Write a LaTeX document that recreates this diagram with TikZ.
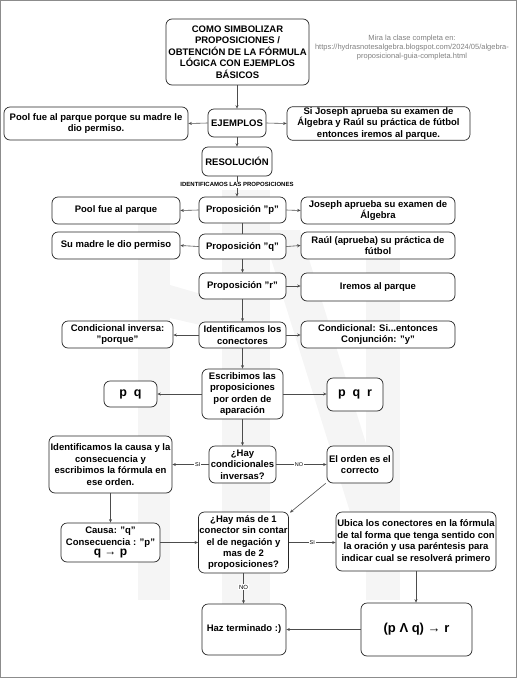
\documentclass[tikz,border=0pt]{standalone}
\usepackage{fontspec}
\setmainfont{Liberation Sans}
\usetikzlibrary{arrows.meta}
\begin{document}
\begin{tikzpicture}[x=1pt,y=-1pt,
  box/.style={draw=black!85, rounded corners=6pt, line width=0.7pt, align=center, fill=white,
    font=\fontsize{9.5}{11.4}\selectfont\bfseries, inner sep=1pt},
  conn/.style={draw=black!70, line width=0.6pt, -{Stealth[length=3.5pt,width=3pt]}},
  plain/.style={draw=black!70, line width=0.6pt},
  lbl/.style={fill=white, inner sep=1pt, font=\fontsize{5.5}{6}\selectfont},
  wm/.style={fill=black!4, draw=none}]
\useasboundingbox (0,0) rectangle (517,678);
% watermark
\fill[wm] (138,205) rectangle (170,600);
\fill[wm] (170,285) -- (222,300) -- (222,330) -- (170,318) -- cycle;
\fill[wm] (222,190) rectangle (270,650);
\fill[wm] (262,230) -- (300,230) -- (402,560) -- (365,560) -- cycle;
\fill[wm] (366,245) rectangle (400,600);
% frame
\draw[black!45, line width=1pt] (0.5,0.5) rectangle (516.5,677.5);
% header note
\node[align=center, text=black!50, font=\fontsize{7.5}{9}\selectfont] (note) at (412,48)
  {Mira la clase completa en:\\https://hydrasnotesalgebra.blogspot.com/2024/05/algebra-\\proposicional-guia-completa.html};
% nodes
\node[box, minimum width=143pt, minimum height=66pt] (title) at (237.5,52)
  {COMO SIMBOLIZAR\\PROPOSICIONES /\\OBTENCIÓN DE LA FÓRMULA\\LÓGICA CON EJEMPLOS\\BÁSICOS};
\node[box, minimum width=58pt, minimum height=28pt] (ejem) at (237,123) {EJEMPLOS};
\node[box, minimum width=184pt, minimum height=33pt] (pool1) at (96,123.5)
  {Pool fue al parque porque su madre le\\dio permiso.};
\node[box, minimum width=183pt, minimum height=33pt] (sij) at (378.5,123.5)
  {Si Joseph aprueba su examen de\\Álgebra y Raúl su práctica de fútbol\\entonces iremos al parque.};
\node[box, minimum width=70pt, minimum height=29pt] (resol) at (237,161.5) {RESOLUCIÓN};

\node[box, minimum width=128pt, minimum height=27pt] (poolp) at (116,210.5) {Pool fue al parque};
\node[box, minimum width=87pt, minimum height=26pt] (propp) at (242.5,210) {Proposición "p"};
\node[box, minimum width=154pt, minimum height=27pt] (jos) at (378,210.5) {Joseph aprueba su examen de\\Álgebra};

\node[box, minimum width=128pt, minimum height=27pt] (madre) at (116,245.5) {Su madre le dio permiso};
\node[box, minimum width=87pt, minimum height=25pt] (propq) at (242.5,246.5) {Proposición "q"};
\node[box, minimum width=154pt, minimum height=27pt] (raul) at (378,245.5) {Raúl (aprueba) su práctica de\\fútbol};

\node[box, minimum width=87pt, minimum height=26pt] (propr) at (242.5,286) {Proposición "r"};
\node[box, minimum width=154pt, minimum height=28pt] (irem) at (378,287) {Iremos al parque};

\node[box, minimum width=111pt, minimum height=27pt] (cinv) at (117.5,334.5) {Condicional inversa:\\"porque"};
\node[box, minimum width=87pt, minimum height=26pt] (icon) at (242.5,335) {Identificamos los\\conectores};
\node[box, minimum width=154pt, minimum height=27pt] (csi) at (378,334.5) {Condicional: Si...entonces\\Conjunción: "y"};

\node[box, minimum width=81pt, minimum height=50pt] (escr) at (242.5,394) {Escribimos las\\proposiciones\\por orden de\\aparación};
\node[box, minimum width=53pt, minimum height=26pt, font=\fontsize{12.5}{14}\selectfont\bfseries] (pq) at (130.5,394) {p\hspace{0.55em}q};
\node[box, minimum width=56pt, minimum height=33pt, font=\fontsize{12.5}{14}\selectfont\bfseries] (pqr) at (355,394.5) {p\hspace{0.55em}q\hspace{0.55em}r};

\node[box, minimum width=67pt, minimum height=37pt] (hay) at (242.5,464.5) {¿Hay\\condicionales\\inversas?};
\node[box, minimum width=123pt, minimum height=57pt] (causa1) at (110.5,464.5)
  {Identificamos la causa y la\\consecuencia y\\escribimos la fórmula en\\ese orden.};
\node[box, minimum width=66pt, minimum height=37pt] (orden) at (360,464.5) {El orden es el\\correcto};

\node[box, minimum width=99pt, minimum height=39pt] (causa2) at (110.5,542.5)
  {Causa: "q"\\Consecuencia : "p"\\[-1pt]{\fontsize{12}{12}\selectfont q {\mdseries →} p}};
\node[box, minimum width=89pt, minimum height=61pt] (mas) at (243.5,542.5)
  {¿Hay más de 1\\conector sin contar\\el de negación y\\mas de 2\\proposiciones?};
\node[box, minimum width=160pt, minimum height=59pt] (ubica) at (416,541.5)
  {Ubica los conectores en la fórmula\\de tal forma que tenga sentido con\\la oración y usa paréntesis para\\indicar cual se resolverá primero};
\node[box, minimum width=84pt, minimum height=51pt] (haz) at (244,629.5) {Haz terminado :)};
\node[box, minimum width=111pt, minimum height=53pt, font=\fontsize{13}{14}\selectfont\bfseries] (form) at (416.5,629.5)
  {(p Λ q) {\mdseries →} r};

% connectors
\draw[conn] (title.south -| ejem.north) -- (ejem.north);
\draw[conn] (ejem.west) -- (pool1.east);
\draw[conn] (ejem.east) -- (sij.west);
\draw[conn] (ejem.south) -- (ejem.south |- resol.north);
\draw[conn] (resol.south) -- (resol.south |- propp.north)
  node[pos=0.42, fill=white, inner sep=1pt, font=\fontsize{6}{7}\selectfont\bfseries] (lid) {IDENTIFICAMOS LAS PROPOSICIONES};
\draw[conn] (propp.west) -- (poolp.east);
\draw[conn] (propp.east) -- (jos.west);
\draw[plain] (propp.south) -- (propq.north);
\draw[conn] (propq.west) -- (madre.east);
\draw[conn] (propq.east) -- (raul.west);
\draw[conn] (propq.south) -- (propr.north);
\draw[conn] (propr.east) -- (irem.west |- propr.east);
\draw[conn] (propr.south) -- (icon.north);
\draw[conn] (icon.west) -- (cinv.east |- icon.west);
\draw[conn] (icon.east) -- (csi.west |- icon.east);
\draw[conn] (icon.south) -- (escr.north);
\draw[conn] (escr.west) -- (pq.east);
\draw[conn] (escr.east) -- (pqr.west |- escr.east);
\draw[conn] (escr.south) -- (hay.north);
\draw[conn] (hay.west) -- (causa1.east |- hay.west) node[lbl, pos=0.3] (lsi1) {SI};
\draw[conn] (hay.east) -- (orden.west |- hay.east) node[lbl, pos=0.45] (lno1) {NO};
\draw[conn] ([xshift=-1pt]orden.south west) -- ([xshift=1pt,yshift=-1pt]mas.north east);
\draw[conn] (causa1.south) -- (causa1.south |- causa2.north);
\draw[conn] (causa2.east) -- (mas.west |- causa2.east);
\draw[conn] (mas.east) -- (mas.east -| ubica.west) node[lbl, pos=0.5] (lsi2) {SI};
\draw[conn] (mas.south) -- (mas.south |- haz.north) node[lbl, pos=0.45, font=\fontsize{6}{7}\selectfont] (lno2) {NO};
\draw[conn] (ubica.south) -- (ubica.south |- form.north);
\draw[conn] (form.west) -- (haz.east |- form.west);
\end{tikzpicture}
\end{document}
